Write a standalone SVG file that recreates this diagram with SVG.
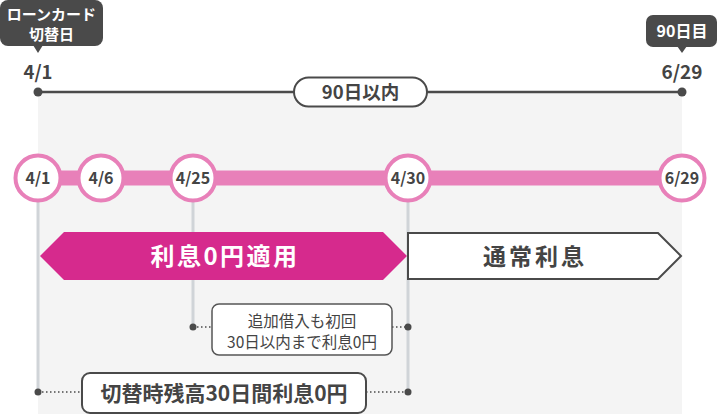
<svg xmlns="http://www.w3.org/2000/svg" width="720" height="414" viewBox="0 0 720 414">
<style>
text{font-family:"Noto Sans CJK JP","Noto Sans",sans-serif;text-anchor:middle}
.b{font-weight:bold}
.dk{fill:#4a4a4a}
.circ{fill:#fff;stroke:#e880b9;stroke-width:4}
.ct{font-size:16px;font-weight:bold;fill:#444}
.vl{stroke:#d0d4d8;stroke-width:3}
.dot{stroke:#4a4a4a;stroke-width:1.5;stroke-dasharray:1.5 2.5;fill:none}
</style>
<rect x="38" y="92" width="644" height="322" fill="#f4f4f4"/>
<g id="connectors">
  <line x1="38" y1="92" x2="682" y2="92" stroke="#4a4a4a" stroke-width="2.5"/>
  <circle cx="38" cy="92" r="4.5" class="dk"/>
  <circle cx="682" cy="92" r="4.5" class="dk"/>
  <line x1="38" y1="178" x2="682" y2="178" stroke="#e880b9" stroke-width="15"/>
  <line x1="38" y1="200" x2="38" y2="392" class="vl"/>
  <line x1="193" y1="200" x2="193" y2="326" class="vl"/>
  <line x1="408" y1="200" x2="408" y2="392" class="vl"/>
  <line x1="193" y1="327" x2="212" y2="327" class="dot"/>
  <line x1="392" y1="327" x2="408" y2="327" class="dot"/>
  <line x1="38" y1="392" x2="82" y2="392" class="dot"/>
  <line x1="366" y1="392" x2="408" y2="392" class="dot"/>
  <circle cx="193" cy="327" r="3.5" class="dk"/>
  <circle cx="408" cy="327" r="3.5" class="dk"/>
  <circle cx="38" cy="392" r="3.5" class="dk"/>
  <circle cx="408" cy="392" r="3.5" class="dk"/>
</g>
<g id="tip-start">
  <rect x="0" y="0" width="103" height="46" rx="8" class="dk"/>
  <polygon points="33,45 43,45 38,53" class="dk"/>
  <text x="51.5" y="20" class="b" font-size="15" fill="#fff">ローンカード</text>
  <text x="51.5" y="39.5" class="b" font-size="15" fill="#fff">切替日</text>
  <text x="38" y="78.5" class="b" font-size="18.5" fill="#444">4/1</text>
</g>
<g id="tip-end">
  <rect x="646" y="15" width="71" height="32" rx="7" class="dk"/>
  <polygon points="677,46 687,46 682,53" class="dk"/>
  <text x="682" y="37" class="b" font-size="16" fill="#fff">90日目</text>
  <text x="682" y="78.5" class="b" font-size="19" fill="#444">6/29</text>
</g>
<g id="within90">
  <rect x="294" y="77.5" width="133" height="29" rx="14.5" fill="#fff" stroke="#4a4a4a" stroke-width="2"/>
  <text x="360.5" y="99" class="b" font-size="18.5" fill="#444">90日以内</text>
</g>
<g id="d0401"><circle cx="38" cy="178" r="22.5" class="circ"/><text x="38" y="183.5" class="ct">4/1</text></g>
<g id="d0406"><circle cx="101" cy="178" r="22.5" class="circ"/><text x="101" y="183.5" class="ct">4/6</text></g>
<g id="d0425"><circle cx="193" cy="178" r="22.5" class="circ"/><text x="193" y="183.5" class="ct">4/25</text></g>
<g id="d0430"><circle cx="408" cy="178" r="22.5" class="circ"/><text x="408" y="183.5" class="ct">4/30</text></g>
<g id="d0629"><circle cx="682" cy="178" r="22.5" class="circ"/><text x="682" y="183.5" class="ct">6/29</text></g>
<g id="free">
  <polygon points="40,256 64,232 383,232 407,256 383,280 64,280" fill="#d62a8d"/>
  <text x="225" y="265" class="b" font-size="24" fill="#fff" letter-spacing="2.5">利息0円適用</text>
</g>
<g id="normal">
  <polygon points="408,233 658,233 681,256 658,279 408,279" fill="#fff" stroke="#4a4a4a" stroke-width="2"/>
  <text x="535" y="265" class="b" font-size="23" fill="#444" letter-spacing="3">通常利息</text>
</g>
<g id="note-add">
  <rect x="212" y="304" width="180" height="51" rx="7" fill="#fff" stroke="#555" stroke-width="1.5"/>
  <text x="302" y="326.5" font-size="15.5" fill="#444">追加借入も初回</text>
  <text x="302" y="348" font-size="15.5" fill="#444">30日以内まで利息0円</text>
</g>
<g id="note-switch">
  <rect x="82" y="373" width="284" height="40" rx="8" fill="#fff" stroke="#4a4a4a" stroke-width="2"/>
  <text x="224" y="400.5" class="b" font-size="21" fill="#444">切替時残高30日間利息0円</text>
</g>
</svg>
